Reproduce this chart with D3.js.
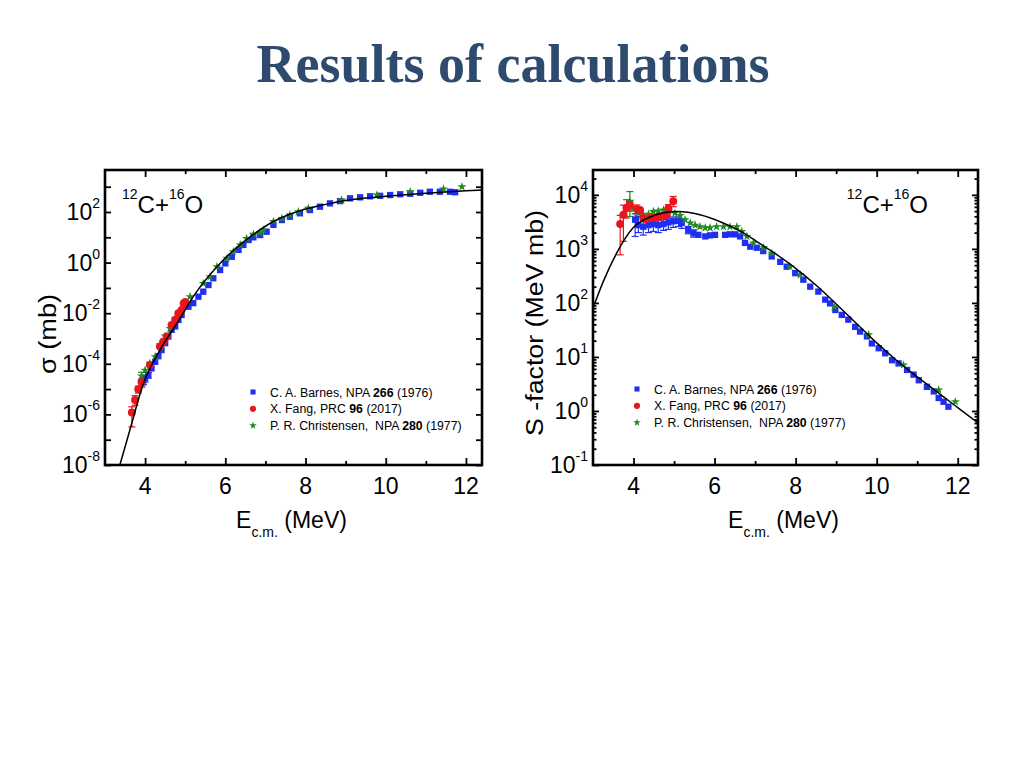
<!DOCTYPE html>
<html><head><meta charset="utf-8">
<script src="https://cdn.jsdelivr.net/npm/d3@7/dist/d3.min.js"></script>
<style>body{margin:0;background:#fff}</style>
</head><body><svg id="c" width="1024" height="768"></svg>
<script>
// ---------- data ----------
const xTickValues = [4, 6, 8, 10, 12];
const xMinorTickValues = [5, 7, 9, 11];
const sigmaLabelExps = [2, 0, -2, -4, -6, -8];
const sFactorLabelExps = [4, 3, 2, 1, 0, -1];
const legendLabels = [
  ["C. A. Barnes, NPA ", "266", " (1976)"],
  ["X. Fang, PRC ", "96", " (2017)"],
  ["P. R. Christensen,  NPA ", "280", " (1977)"]
];

// cross section sigma (mb) vs E (MeV): [E, value, errLow, errHigh]
const sigmaTheory = [[3.30,4.1e-9],[3.37,1e-8],[3.62,2.4e-7],[3.96,1.7e-5],[4.37,3.5e-4],[4.80,4.1e-3],[5.20,4.5e-2],[5.95,1.26],[6.62,10.4],[7.2,42],[7.86,112],[8.5,200],[9.0,282],[9.5,355],[10,417],[11,550],[12,692],[12.4,741]];
const sigmaBarnes = [[3.92,1.8e-5,1.2e-5,2.6e-5],[3.96,2.2e-5,1.5e-5,3.2e-5],[4.00,2.7e-5,1.9e-5,3.6e-5],[4.08,3.6e-5,2.7e-5,4.6e-5],[4.16,6.6e-5],[4.25,1.2e-4],[4.33,2.0e-4],[4.41,3.5e-4],[4.50,6.5e-4],[4.58,1.2e-3],[4.66,2.2e-3],[4.75,3.0e-3],[4.83,5.4e-3],[4.91,8.5e-3],[5.08,0.018],[5.20,0.025],[5.33,0.045],[5.45,0.071],[5.58,0.13],[5.70,0.24],[5.87,0.51],[6.00,0.93],[6.16,1.7],[6.33,3.2],[6.45,5.0],[6.58,7.8],[6.70,10],[6.87,12.3],[7.03,16.6],[7.20,31],[7.41,48],[7.61,65],[7.86,89],[8.11,120],[8.36,162],[8.61,219],[8.86,269],[9.11,347],[9.36,380],[9.61,417],[9.86,437],[10.11,468],[10.36,501],[10.61,525],[10.86,575],[11.10,631],[11.35,631],[11.60,631],[11.73,603]];
const sigmaFang = [[3.67,1.2e-6,3.2e-7,2.0e-6],[3.75,3.7e-6,2.3e-6,5.5e-6],[3.83,9.8e-6,7e-6,1.3e-5],[3.91,1.9e-5],[4.12,8.9e-5],[4.37,4.8e-4],[4.45,7.4e-4],[4.54,1.2e-3],[4.66,3.4e-3],[4.75,5.4e-3],[4.83,1.0e-2],[4.91,1.35e-2],[4.96,2.4e-2],[5.00,2.8e-2]];
const sigmaChristensen = [[3.91,3.3e-5,2.2e-5,4.6e-5],[4.00,5.6e-5],[4.12,1.05e-4],[4.25,1.9e-4],[4.37,5.5e-4],[4.50,1.26e-3],[4.62,2.5e-3],[4.75,6.3e-3],[4.87,0.0115],[5.12,0.045],[5.45,0.15],[5.62,0.275],[5.79,0.69],[6.04,1.48],[6.20,2.7],[6.37,5.0],[6.53,8.9],[6.70,13.2],[6.87,15.1],[6.95,19.5],[7.20,42],[7.41,56],[7.61,76],[7.82,102],[8.07,141],[8.90,295],[9.78,468],[10.61,631],[11.44,813],[11.90,1000]];

// S-factor (MeV mb) vs E (MeV)
const sFactorTheory = [[3.0,80],[3.25,245],[3.59,851],[3.99,2455],[4.41,3890],[5.07,4900],[5.64,4270],[6.21,3020],[6.70,2000],[7.05,1350],[7.5,813],[8.0,437],[8.5,214],[9.0,95.5],[9.5,41.7],[10.0,18.2],[10.5,8.5],[11.0,4.27],[11.5,2.24],[12.0,1.15],[12.5,0.60]];
const sFactorBarnes = [[4.04,3470,1700,4470],[4.12,2750,2000,4000],[4.24,2570,1800,3300],[4.37,2750,2000,3400],[4.49,2880,2100,3500],[4.61,2750,2000,3400],[4.74,2880,2200,3500],[4.86,3090,2300,3700],[4.98,3240,2500,3900],[5.11,3310,2600,3900],[5.19,3020,2400,3600],[5.35,2240,1900,2600],[5.48,1950,1650,2250],[5.60,1820],[5.77,1700],[5.89,1780],[6.01,1820],[6.26,1820],[6.38,1860],[6.51,1860],[6.63,1700],[6.75,1290],[6.88,1100],[7.04,1050],[7.20,912],[7.41,724],[7.62,575],[7.78,468],[7.99,355],[8.19,269],[8.36,200],[8.56,162],[8.73,115],[8.85,98],[8.98,74],[9.14,60],[9.30,49],[9.47,36],[9.59,29.5],[9.76,24],[9.88,17.8],[10.05,14.5],[10.21,11.7],[10.38,8.7],[10.54,7.6],[10.75,5.75],[10.91,4.7],[11.04,3.7],[11.24,2.8],[11.41,2.3],[11.53,1.74],[11.65,1.48],[11.77,1.2]];
const sFactorFang = [[3.67,2880,776,4170],[3.75,4270,1380,6460],[3.83,5750,3720,8130],[3.91,6460,5000,7500],[4.08,5500,4500,6500],[4.16,5250],[4.24,3720],[4.30,3550],[4.41,3720],[4.50,3800],[4.57,3720],[4.65,3980],[4.70,3980],[4.82,4270],[4.86,5620,4700,6600],[4.98,7590,6030,9330]];
const sFactorChristensen = [[3.91,7590,3980,11500],[3.99,5620],[4.12,4570],[4.24,4270],[4.37,4370],[4.49,4900],[4.61,5010],[4.74,5250],[4.86,5010],[5.02,4570],[5.15,4170],[5.27,3470],[5.40,3020],[5.52,2750],[5.64,2570],[5.77,2450],[5.89,2450],[6.05,2570],[6.22,2570],[6.38,2570],[6.55,2570],[6.67,2090],[6.80,1700],[6.96,1290],[7.21,1050],[7.41,832],[7.86,468],[8.11,331],[8.95,85],[9.80,25.7],[10.66,7.1],[11.53,2.45],[11.94,1.48]];

// ---------- drawing ----------
const FONT = '"Liberation Sans", Arial, sans-serif';
const BLUE = '#1f2ff2', RED = '#e8161c', GREEN = '#1f8a1f';
const svg = d3.select('#c');

svg.append('text').attr('x', 513).attr('y', 82).attr('text-anchor', 'middle')
  .attr('font-family', '"Liberation Serif", "Times New Roman", serif')
  .attr('font-weight', 'bold').attr('font-size', 54).attr('fill', '#2e4a6e')
  .text('Results of calculations');

function panel(o) {
  const g = svg.append('g');
  const x = d3.scaleLinear().domain(o.xDomain).range([o.left, o.right]);
  const y = d3.scaleLog().domain(o.yDomain).range([o.bottom, o.top]);
  const cid = 'clip' + o.id;
  svg.append('defs').append('clipPath').attr('id', cid).append('rect')
    .attr('x', o.left).attr('y', o.top).attr('width', o.right - o.left).attr('height', o.bottom - o.top);
  const plot = g.append('g').attr('clip-path', `url(#${cid})`);

  const series = [
    {data: o.barnes, color: BLUE, type: 'square'},
    {data: o.christensen, color: GREEN, type: 'star'},
    {data: o.fang, color: RED, type: 'circle'}
  ];
  // error bars
  series.forEach(s => {
    const eb = plot.append('g').attr('stroke', s.color).attr('stroke-width', 1.2);
    s.data.filter(d => d.length > 2).forEach(d => {
      const xx = x(d[0]);
      eb.append('line').attr('x1', xx).attr('x2', xx).attr('y1', y(d[2])).attr('y2', y(d[3]));
      eb.append('line').attr('x1', xx - 3.5).attr('x2', xx + 3.5).attr('y1', y(d[2])).attr('y2', y(d[2]));
      eb.append('line').attr('x1', xx - 3.5).attr('x2', xx + 3.5).attr('y1', y(d[3])).attr('y2', y(d[3]));
    });
  });
  const sym = {
    square: d3.symbol().type(d3.symbolSquare).size(40),
    star: d3.symbol().type(d3.symbolStar).size(26),
    circle: d3.symbol().type(d3.symbolCircle).size(50)
  };
  series.forEach(s => {
    plot.append('g').selectAll('path').data(s.data).join('path')
      .attr('transform', d => `translate(${x(d[0])},${y(d[1])})`)
      .attr('d', sym[s.type]).attr('fill', s.color);
  });
  // theory curve
  const line = d3.line().x(d => x(d[0])).y(d => y(d[1])).curve(d3.curveMonotoneX);
  plot.append('path').datum(o.theory).attr('d', line).attr('fill', 'none')
    .attr('stroke', '#000').attr('stroke-width', 1.5);

  // ticks (inward on all four sides)
  const tk = (axis, tr) => {
    const a = g.append('g').attr('transform', tr).call(axis);
    a.select('.domain').remove();
    a.selectAll('.tick line').attr('stroke', '#000').attr('stroke-width', 1.8);
    a.selectAll('text').remove();
  };
  tk(d3.axisBottom(x).tickValues(xTickValues).tickSize(-7), `translate(0,${o.bottom})`);
  tk(d3.axisBottom(x).tickValues(xMinorTickValues).tickSize(-4), `translate(0,${o.bottom})`);
  tk(d3.axisTop(x).tickValues(xTickValues).tickSize(-7), `translate(0,${o.top})`);
  tk(d3.axisTop(x).tickValues(xMinorTickValues).tickSize(-4), `translate(0,${o.top})`);
  tk(d3.axisLeft(y).tickValues(o.majorY).tickSize(-6), `translate(${o.left},0)`);
  tk(d3.axisRight(y).tickValues(o.majorY).tickSize(-6), `translate(${o.right},0)`);
  if (o.minorY.length) {
    tk(d3.axisLeft(y).tickValues(o.minorY).tickSize(-3.5), `translate(${o.left},0)`);
    tk(d3.axisRight(y).tickValues(o.minorY).tickSize(-3.5), `translate(${o.right},0)`);
  }
  // frame
  g.append('rect').attr('x', o.left).attr('y', o.top).attr('width', o.right - o.left)
    .attr('height', o.bottom - o.top).attr('fill', 'none').attr('stroke', '#000').attr('stroke-width', 2.6);

  // x tick labels
  g.append('g').selectAll('text').data(xTickValues).join('text')
    .attr('x', d => x(d)).attr('y', o.bottom + 29).attr('text-anchor', 'middle')
    .attr('font-family', FONT).attr('font-size', 23).text(d => d);
  // y tick labels
  o.labelExps.forEach(e => {
    const t = g.append('text').attr('x', o.left - 5).attr('y', y(Math.pow(10, e)) + 8)
      .attr('text-anchor', 'end').attr('font-family', FONT).attr('font-size', 23);
    t.append('tspan').text('10');
    t.append('tspan').attr('dy', -12).attr('font-size', 14).text(e < 0 ? '-' + (-e) : e);
  });
  // x title
  const xt = g.append('text').attr('x', (o.left + o.right) / 2 - 2).attr('y', o.bottom + 63)
    .attr('text-anchor', 'middle').attr('font-family', FONT).attr('font-size', 23);
  xt.append('tspan').text('E');
  xt.append('tspan').attr('font-size', 14).attr('dy', 9).text('c.m.');
  xt.append('tspan').attr('dy', -9).text('\u00a0(MeV)');
  // y title
  g.append('text').attr('transform', `translate(${o.yTitleX},${o.yTitleY}) rotate(-90)`)
    .attr('text-anchor', 'middle').attr('font-family', FONT).attr('font-size', 23)
    .attr('textLength', o.yTitleLen).attr('lengthAdjust', 'spacingAndGlyphs').text(o.yTitle);
  // reaction label
  const rl = g.append('text').attr('x', o.reacX).attr('y', 213).attr('text-anchor', o.reacAnchor)
    .attr('font-family', FONT).attr('font-size', 24);
  rl.append('tspan').attr('dy', -14).attr('font-size', 14).text('12');
  rl.append('tspan').attr('dy', 14).text('C+');
  rl.append('tspan').attr('dy', -14).attr('font-size', 14).text('16');
  rl.append('tspan').attr('dy', 14).text('O');
  // legend
  const types = ['square', 'circle', 'star'], cols = [BLUE, RED, GREEN];
  const lsym = {
    square: d3.symbol().type(d3.symbolSquare).size(26),
    circle: d3.symbol().type(d3.symbolCircle).size(30),
    star: d3.symbol().type(d3.symbolStar).size(18)
  };
  legendLabels.forEach((lab, i) => {
    const ly = o.legY + i * 16.8;
    g.append('path').attr('transform', `translate(${o.legX},${ly})`).attr('d', lsym[types[i]]).attr('fill', cols[i]);
    const t = g.append('text').attr('x', o.legX + 17).attr('y', ly + 4.5)
      .attr('font-family', FONT).attr('font-size', 12.3).attr('xml:space', 'preserve');
    t.append('tspan').text(lab[0]);
    t.append('tspan').attr('font-weight', 'bold').text(lab[1]);
    t.append('tspan').text(lab[2]);
  });
}

const decades = (a, b) => d3.range(a, b + 1).map(e => Math.pow(10, e));
const minors = (a, b) => { const r = []; for (let e = a; e <= b; e++) for (let m = 2; m <= 9; m++) r.push(m * Math.pow(10, e)); return r; };

panel({
  id: 'L', left: 105, right: 482, top: 170, bottom: 465,
  xDomain: [3, 12.4], yDomain: [1e-8, Math.pow(10, 3.66)],
  majorY: decades(-8, 3), minorY: [], labelExps: sigmaLabelExps,
  theory: sigmaTheory, barnes: sigmaBarnes, fang: sigmaFang, christensen: sigmaChristensen,
  yTitle: '\u03c3 (mb)', yTitleX: 56, yTitleY: 334, yTitleLen: 80,
  reacX: 122, reacAnchor: 'start', legX: 253, legY: 392
});
panel({
  id: 'R', left: 593, right: 978, top: 170, bottom: 465,
  xDomain: [3, 12.5], yDomain: [0.1, Math.pow(10, 4.46)],
  majorY: decades(-1, 4), minorY: minors(-1, 4).filter(v => v < Math.pow(10, 4.46)), labelExps: sFactorLabelExps,
  theory: sFactorTheory, barnes: sFactorBarnes, fang: sFactorFang, christensen: sFactorChristensen,
  yTitle: 'S -factor (MeV mb)', yTitleX: 543, yTitleY: 323, yTitleLen: 226,
  reacX: 928, reacAnchor: 'end', legX: 637, legY: 389
});
</script></body></html>
